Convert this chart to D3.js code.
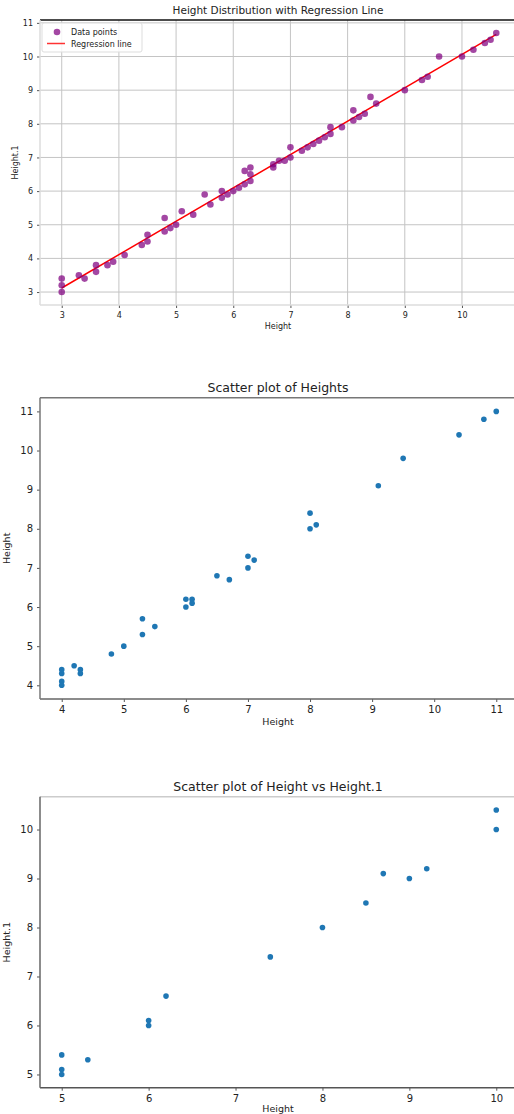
<!DOCTYPE html>
<html>
<head>
<meta charset="utf-8">
<script src="https://cdn.jsdelivr.net/npm/d3@7"></script>
<style>
  body { margin: 0; background: #fff; }
  svg { display: block; font-family: "DejaVu Sans", sans-serif; }
</style>
</head>
<body>
<svg id="chart" width="514" height="1114"></svg>
<script>
// Panel 1: Height vs Height.1 with regression line
const regHeight = [3, 3, 3, 3.3, 3.4, 3.6, 3.6, 3.8, 3.9, 4.1, 4.4, 4.5, 4.5, 4.8, 4.8, 4.9, 5, 5.1, 5.3, 5.5,
  5.6, 5.8, 5.8, 5.9, 6, 6.1, 6.2, 6.2, 6.3, 6.3, 6.3, 6.7, 6.7, 6.8, 6.9, 7, 7, 7.2, 7.3, 7.4,
  7.5, 7.6, 7.7, 7.7, 7.9, 8.1, 8.1, 8.2, 8.3, 8.4, 8.5, 9, 9.3, 9.4, 9.6, 10, 10.2, 10.4, 10.5, 10.6];
const regHeight1 = [3.4, 3.2, 3, 3.5, 3.4, 3.8, 3.6, 3.8, 3.9, 4.1, 4.4, 4.7, 4.5, 5.2, 4.8, 4.9, 5, 5.4, 5.3, 5.9,
  5.6, 6, 5.8, 5.9, 6, 6.1, 6.6, 6.2, 6.7, 6.5, 6.3, 6.8, 6.7, 6.9, 6.9, 7, 7.3, 7.2, 7.3, 7.4,
  7.5, 7.6, 7.9, 7.7, 7.9, 8.4, 8.1, 8.2, 8.3, 8.8, 8.6, 9, 9.3, 9.4, 10, 10, 10.2, 10.4, 10.5, 10.7];
const regXTicks = [3, 4, 5, 6, 7, 8, 9, 10];
const regYTicks = [3, 4, 5, 6, 7, 8, 9, 10, 11];

// Panel 2: scatter of heights
const hHeight = [4, 4, 4, 4, 4.2, 4.3, 4.3, 4.8, 5, 5.3, 5.3, 5.5, 6, 6, 6.1, 6.1, 6.5, 6.7, 7, 7, 7.1,
  8, 8, 8.1, 9.1, 9.5, 10.4, 10.8, 11];
const hHeightY = [4.4, 4.3, 4.1, 4, 4.5, 4.4, 4.3, 4.8, 5, 5.7, 5.3, 5.5, 6.2, 6, 6.2, 6.1, 6.8, 6.7, 7.3, 7, 7.2,
  8.4, 8, 8.1, 9.1, 9.8, 10.4, 10.8, 11];
const hXTicks = [4, 5, 6, 7, 8, 9, 10, 11];
const hYTicks = [4, 5, 6, 7, 8, 9, 10, 11];

// Panel 3: Height vs Height.1
const vHeight = [5, 5, 5, 5.3, 6, 6, 6.2, 7.4, 8, 8.5, 8.7, 9, 9.2, 10, 10];
const vHeight1 = [5.4, 5.1, 5, 5.3, 6.1, 6, 6.6, 7.4, 8, 8.5, 9.1, 9, 9.2, 10, 10.4];
const vXTicks = [5, 6, 7, 8, 9, 10];
const vYTicks = [5, 6, 7, 8, 9, 10];

const svg = d3.select("#chart");

function padded(vals, frac) {
  const [a, b] = d3.extent(vals);
  const m = (b - a) * frac;
  return [a - m, b + m];
}

function drawPanel(o) {
  const g = svg.append("g");
  const x = d3.scaleLinear().domain(padded(o.xs, 0.05)).range([o.left, o.right]);
  const y = d3.scaleLinear().domain(padded(o.ys, 0.05)).range([o.bottom, o.top]);

  if (o.grid) {
    g.append("g").selectAll("line").data(o.xTicks).join("line")
      .attr("x1", d => x(d)).attr("x2", d => x(d))
      .attr("y1", o.top).attr("y2", o.bottom)
      .attr("stroke", "#c4c4c4").attr("stroke-width", 1);
    g.append("g").selectAll("line").data(o.yTicks).join("line")
      .attr("x1", o.left).attr("x2", o.right)
      .attr("y1", d => y(d)).attr("y2", d => y(d))
      .attr("stroke", "#c4c4c4").attr("stroke-width", 1);
  }

  const xAxis = g.append("g")
    .attr("transform", `translate(0,${o.bottom})`)
    .call(d3.axisBottom(x).tickValues(o.xTicks).tickSize(3).tickPadding(4).tickFormat(d3.format("d")));
  const yAxis = g.append("g")
    .attr("transform", `translate(${o.left},0)`)
    .call(d3.axisLeft(y).tickValues(o.yTicks).tickSize(3).tickPadding(4).tickFormat(d3.format("d")));
  [xAxis, yAxis].forEach(a => {
    a.select(".domain").remove();
    a.selectAll("text").attr("font-size", o.tickSize).attr("fill", "#222")
      .attr("font-family", "DejaVu Sans, sans-serif");
    a.selectAll(".tick line").attr("stroke", "#555");
  });

  // spines
  g.append("line").attr("x1", o.left).attr("x2", o.right).attr("y1", o.top).attr("y2", o.top)
    .attr("stroke", o.topSpine).attr("stroke-width", 1.5);
  g.append("line").attr("x1", o.left).attr("x2", o.right).attr("y1", o.bottom).attr("y2", o.bottom)
    .attr("stroke", o.bottomSpine).attr("stroke-width", 1.5);
  g.append("line").attr("x1", o.left).attr("x2", o.left).attr("y1", o.top).attr("y2", o.bottom)
    .attr("stroke", o.leftSpine).attr("stroke-width", 1.5);

  if (o.regression) {
    const mx = d3.mean(o.xs), my = d3.mean(o.ys);
    const slope = d3.sum(o.xs, (d, i) => (d - mx) * (o.ys[i] - my)) / d3.sum(o.xs, d => (d - mx) * (d - mx));
    const icpt = my - slope * mx;
    const ex = d3.extent(o.xs);
    g.append("line")
      .attr("x1", x(ex[0])).attr("y1", y(icpt + slope * ex[0]))
      .attr("x2", x(ex[1])).attr("y2", y(icpt + slope * ex[1]))
      .attr("stroke", "red").attr("stroke-width", 1.5);
  }

  g.append("g").selectAll("circle").data(o.xs).join("circle")
    .attr("cx", d => x(d))
    .attr("cy", (d, i) => y(o.ys[i]))
    .attr("r", o.r)
    .attr("fill", o.color)
    .attr("fill-opacity", o.opacity);

  g.append("text").attr("x", 278).attr("y", o.top - 6)
    .attr("text-anchor", "middle").attr("font-size", o.titleSize).attr("fill", "#222")
    .text(o.title);
  g.append("text").attr("x", 278).attr("y", o.bottom + o.xLabelOff)
    .attr("text-anchor", "middle").attr("font-size", o.labelSize).attr("fill", "#222")
    .text(o.xLabel);
  g.append("text")
    .attr("transform", `translate(${o.yLabelX},${(o.top + o.bottom) / 2}) rotate(-90)`)
    .attr("text-anchor", "middle").attr("font-size", o.labelSize).attr("fill", "#222")
    .text(o.yLabel);

  if (o.legend) {
    const lg = g.append("g");
    lg.append("rect").attr("x", o.left + 2).attr("y", o.top + 3).attr("width", 100).attr("height", 29)
      .attr("rx", 2).attr("fill", "#fff").attr("fill-opacity", 0.85).attr("stroke", "#ddd");
    lg.append("circle").attr("cx", o.left + 17).attr("cy", o.top + 12).attr("r", o.r)
      .attr("fill", o.color).attr("fill-opacity", o.opacity);
    lg.append("text").attr("x", o.left + 31).attr("y", o.top + 15).attr("font-size", 8).attr("fill", "#222")
      .text("Data points");
    lg.append("line").attr("x1", o.left + 7).attr("x2", o.left + 25)
      .attr("y1", o.top + 23.5).attr("y2", o.top + 23.5)
      .attr("stroke", "red").attr("stroke-width", 1.5).attr("stroke-opacity", 0.8);
    lg.append("text").attr("x", o.left + 31).attr("y", o.top + 26.5).attr("font-size", 8).attr("fill", "#222")
      .text("Regression line");
  }
}

drawPanel({
  xs: regHeight, ys: regHeight1, xTicks: regXTicks, yTicks: regYTicks,
  left: 40, right: 518, top: 20, bottom: 305,
  grid: true, regression: true, legend: true,
  color: "purple", opacity: 0.72, r: 3.3,
  topSpine: "#111", bottomSpine: "#ddd", leftSpine: "#ddd",
  title: "Height Distribution with Regression Line", titleSize: 10.5,
  xLabel: "Height", yLabel: "Height.1", labelSize: 8, tickSize: 8,
  xLabelOff: 24, yLabelX: 18
});

drawPanel({
  xs: hHeight, ys: hHeightY, xTicks: hXTicks, yTicks: hYTicks,
  left: 40, right: 518, top: 397.7, bottom: 699,
  grid: false, regression: false, legend: false,
  color: "#1f77b4", opacity: 1, r: 2.8,
  topSpine: "#777", bottomSpine: "#666", leftSpine: "#777",
  title: "Scatter plot of Heights", titleSize: 12.5,
  xLabel: "Height", yLabel: "Height", labelSize: 9.5, tickSize: 10,
  xLabelOff: 26, yLabelX: 10
});

drawPanel({
  xs: vHeight, ys: vHeight1, xTicks: vXTicks, yTicks: vYTicks,
  left: 40, right: 518, top: 796.7, bottom: 1087.7,
  grid: false, regression: false, legend: false,
  color: "#1f77b4", opacity: 1, r: 2.8,
  topSpine: "#ccc", bottomSpine: "#555", leftSpine: "#666",
  title: "Scatter plot of Height vs Height.1", titleSize: 12.5,
  xLabel: "Height", yLabel: "Height.1", labelSize: 9.5, tickSize: 10,
  xLabelOff: 24, yLabelX: 10
});
</script>
</body>
</html>
